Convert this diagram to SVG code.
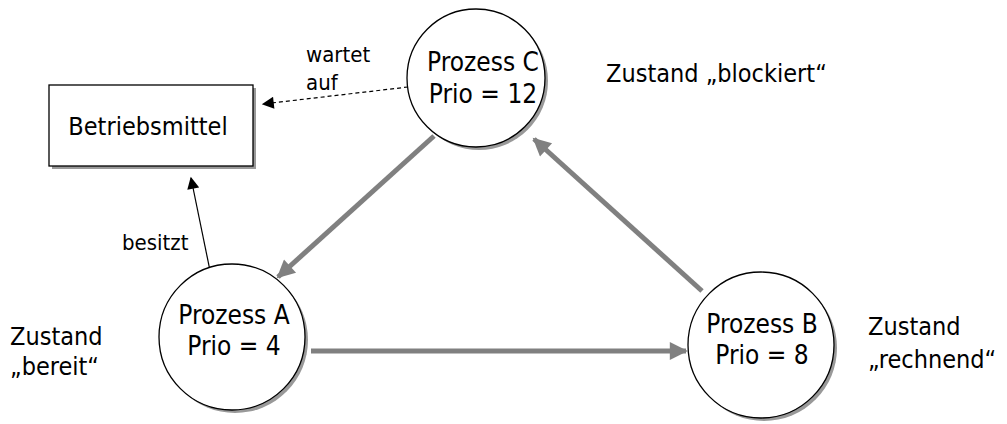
<svg xmlns="http://www.w3.org/2000/svg" width="1007" height="424" viewBox="0 0 1007 424">
<style>
text{font-family:"DejaVu Sans Condensed","DejaVu Sans",sans-serif;font-stretch:condensed;font-size:25px;fill:#000}
.lbl{font-size:22px}
.big{font-size:26px}
.mid{text-anchor:middle}
.shadow{fill:#999;stroke:none}
.node{fill:#fff;stroke:#000;stroke-width:1.3}
.thick{stroke:#808080;stroke-width:5;fill:none}
.thin{stroke:#000;stroke-width:1.2;fill:none}
</style>
<defs>
<marker id="ag" viewBox="0 0 10 10" refX="9" refY="5" markerWidth="4.4" markerHeight="3.6" orient="auto" markerUnits="strokeWidth"><path d="M0,0 L10,5 L0,10 z" fill="#808080"/></marker>
<marker id="ab" viewBox="0 0 10 10" refX="9" refY="5" markerWidth="12" markerHeight="10" orient="auto" markerUnits="strokeWidth"><path d="M0,0 L10,5 L0,10 z" fill="#000"/></marker>
</defs>
<g id="connectors">
<line class="thick" x1="434" y1="136" x2="278" y2="277" marker-end="url(#ag)"/>
<line class="thick" x1="702" y1="291" x2="534" y2="139" marker-end="url(#ag)"/>
<line class="thick" x1="311" y1="351" x2="686" y2="351" marker-end="url(#ag)"/>
<line class="thin" x1="408" y1="87" x2="263" y2="104" stroke-dasharray="4,3" marker-end="url(#ab)"/>
<line class="thin" x1="215" y1="295" x2="191" y2="178" marker-end="url(#ab)"/>
<text class="lbl" x="306" y="62">wartet</text>
<text class="lbl" x="306" y="90">auf</text>
<text class="lbl" x="122" y="250">besitzt</text>
</g>
<g id="betriebsmittel">
<rect class="shadow" x="52" y="88" width="204" height="81"/>
<rect class="node" x="49" y="85" width="204" height="81"/>
<text class="mid" x="148" y="135">Betriebsmittel</text>
</g>
<g id="prozessC">
<circle class="shadow" cx="479" cy="81" r="69"/>
<circle class="node" cx="476" cy="78" r="69"/>
<text class="mid big" x="483" y="71">Prozess C</text>
<text class="mid big" x="483" y="103">Prio = 12</text>
</g>
<g id="prozessA">
<circle class="shadow" cx="235" cy="340" r="73"/>
<circle class="node" cx="232" cy="337" r="73"/>
<text class="mid big" x="234" y="324">Prozess A</text>
<text class="mid big" x="234" y="355">Prio = 4</text>
</g>
<g id="prozessB">
<circle class="shadow" cx="764" cy="348" r="73"/>
<circle class="node" cx="761" cy="345" r="73"/>
<text class="mid big" x="762" y="333">Prozess B</text>
<text class="mid big" x="762" y="364">Prio = 8</text>
</g>
<g id="states">
<text x="606" y="82">Zustand „blockiert“</text>
<text x="10" y="345">Zustand</text>
<text x="10" y="375">„bereit“</text>
<text x="868" y="335">Zustand</text>
<text x="868" y="368">„rechnend“</text>
</g>
</svg>
